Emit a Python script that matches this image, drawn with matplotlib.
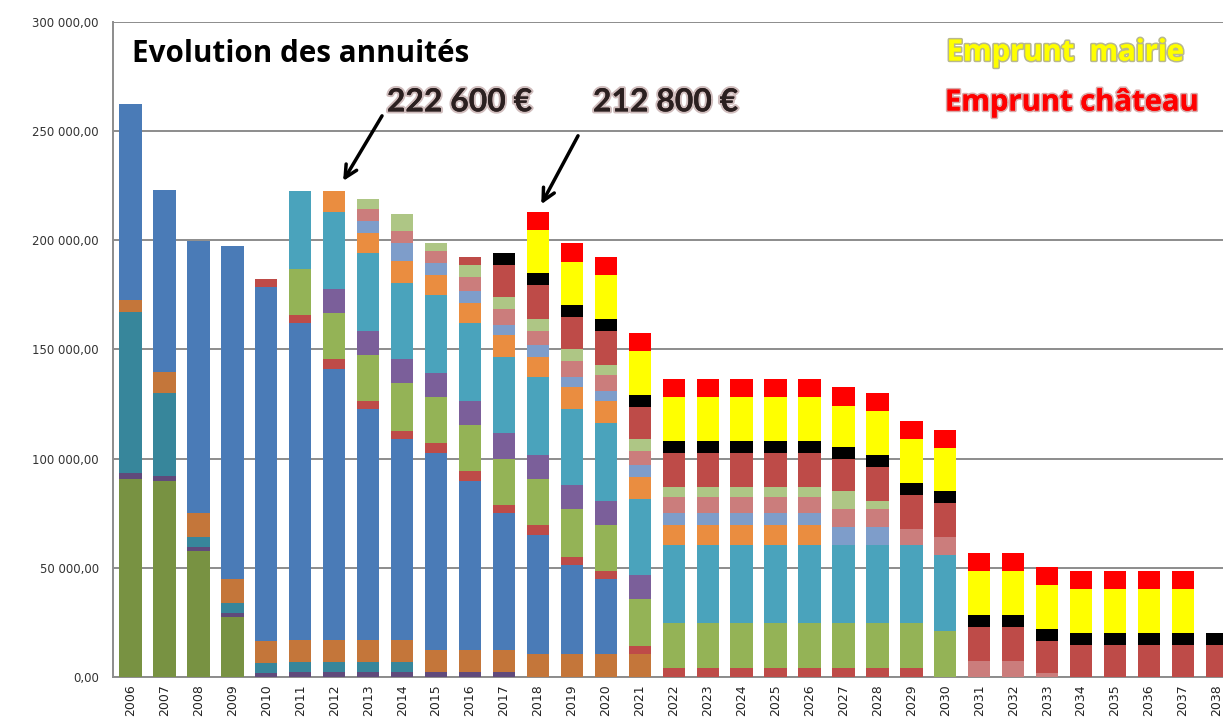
import matplotlib
matplotlib.use("Agg")
import matplotlib.pyplot as plt
import matplotlib.patheffects as pe
import numpy as np

years = ["2006", "2007", "2008", "2009", "2010", "2011", "2012", "2013", "2014", "2015",
         "2016", "2017", "2018", "2019", "2020", "2021", "2022", "2023", "2024", "2025",
         "2026", "2027", "2028", "2029", "2030", "2031", "2032", "2033", "2034", "2035",
         "2036", "2037", "2038"]

# stacked series, bottom to top (values in euros)
s_green_dark = [90500, 89600, 57800, 27300, 0, 0, 0, 0, 0, 0, 0, 0, 0, 0, 0, 0, 0, 0, 0, 0,
                0, 0, 0, 0, 0, 0, 0, 0, 0, 0, 0, 0, 0]
s_purple_dark = [3000, 2600, 1700, 2100, 2000, 2100, 2100, 2100, 2100, 2100, 2100, 2100, 0, 0, 0, 0, 0, 0, 0, 0,
                 0, 0, 0, 0, 0, 0, 0, 0, 0, 0, 0, 0, 0]
s_teal_dark = [73600, 37700, 4600, 4600, 4400, 4600, 4600, 4600, 4600, 0, 0, 0, 0, 0, 0, 0, 0, 0, 0, 0,
               0, 0, 0, 0, 0, 0, 0, 0, 0, 0, 0, 0, 0]
s_orange_dark = [5600, 9900, 10800, 10800, 10100, 10100, 10100, 10100, 10100, 10100, 10100, 10100, 10400, 10400, 10400,
                 10400, 0, 0, 0, 0, 0, 0, 0, 0, 0, 0, 0, 0, 0, 0, 0, 0, 0]
s_blue = [89600, 83200, 124600, 152600, 162200, 145100, 124100, 106000, 92100, 90400, 77600, 63000, 54700, 41000, 34600,
          0, 0, 0, 0, 0, 0, 0, 0, 0, 0, 0, 0, 0, 0, 0, 0, 0, 0]
s_red = [0, 0, 0, 0, 3700, 3900, 4700, 3600, 3900, 4600, 4600, 3700, 4600, 3700, 3700,
         3600, 4000, 4000, 4000, 4000, 4000, 4000, 4000, 4000, 0, 0, 0, 0, 0, 0, 0, 0, 0]
s_green = [0, 0, 0, 0, 0, 21000, 20900, 21100, 21900, 20900, 20900, 20800, 21000, 21900, 21000,
           21900, 20900, 20900, 20900, 20900, 20900, 20900, 20900, 20900, 21200, 0, 0, 0, 0, 0, 0, 0, 0]
s_purple = [0, 0, 0, 0, 0, 0, 11200, 11100, 10900, 11100, 11100, 12100, 11000, 11000, 10800,
            10900, 0, 0, 0, 0, 0, 0, 0, 0, 0, 0, 0, 0, 0, 0, 0, 0, 0]
s_aqua = [0, 0, 0, 0, 0, 35500, 35400, 35500, 34800, 35500, 35500, 34600, 35700, 34600, 35700,
          34800, 35700, 35700, 35700, 35700, 35700, 35700, 35700, 35700, 34800, 0, 0, 0, 0, 0, 0, 0, 0]
s_orange = [0, 0, 0, 0, 0, 0, 9500, 9200, 9900, 9200, 9200, 10000, 9100, 10000, 10000,
            10100, 9100, 9100, 9100, 9100, 9100, 0, 0, 0, 0, 0, 0, 0, 0, 0, 0, 0, 0]
s_lightblue = [0, 0, 0, 0, 0, 0, 0, 5500, 8200, 5500, 5500, 4800, 5500, 4600, 4600,
               5400, 5500, 5500, 5500, 5500, 5500, 8200, 8200, 0, 0, 0, 0, 0, 0, 0, 0, 0, 0]
s_pink = [0, 0, 0, 0, 0, 0, 0, 5500, 5500, 5500, 6400, 7300, 6400, 7300, 7300,
          6300, 7300, 7300, 7300, 7300, 7300, 8200, 8200, 7300, 8200, 7500, 7500, 2000, 0, 0, 0, 0, 0]
s_lightgreen = [0, 0, 0, 0, 0, 0, 0, 4500, 8200, 3600, 5600, 5300, 5500, 5500, 4600,
                5500, 4600, 4600, 4600, 4600, 4600, 8300, 3700, 0, 0, 0, 0, 0, 0, 0, 0, 0, 0]
s_darkred = [0, 0, 0, 0, 0, 0, 0, 0, 0, 0, 3700, 14800, 15600, 14700, 15600,
             14600, 15400, 15400, 15400, 15400, 15400, 14500, 15500, 15500, 15600, 15600, 15600, 14600, 14800, 14800,
             14800, 14800, 14800]
s_black = [0, 0, 0, 0, 0, 0, 0, 0, 0, 0, 0, 5500, 5500, 5500, 5400,
           5500, 5400, 5400, 5400, 5400, 5400, 5500, 5500, 5500, 5500, 5400, 5400, 5500, 5500, 5500,
           5500, 5500, 5500]
s_mairie = [0, 0, 0, 0, 0, 0, 0, 0, 0, 0, 0, 0, 19800, 19900, 20200,
            20100, 20200, 20200, 20200, 20200, 20200, 19000, 20000, 20000, 19700, 20200, 20200, 20200, 20100, 20100,
            20100, 20100, 0]
s_chateau = [0, 0, 0, 0, 0, 0, 0, 0, 0, 0, 0, 0, 8000, 8400, 8200,
             8200, 8400, 8400, 8400, 8400, 8400, 8400, 8200, 8200, 8000, 8200, 8200, 8200, 8300, 8300,
             8300, 8300, 0]

series = [s_green_dark, s_purple_dark, s_teal_dark, s_orange_dark, s_blue, s_red, s_green,
          s_purple, s_aqua, s_orange, s_lightblue, s_pink, s_lightgreen, s_darkred, s_black,
          s_mairie, s_chateau]
colors = ["#789242", "#604A7B", "#37869B", "#C4763A", "#4A7BB7", "#BE4B48", "#94B356",
          "#7B5F9A", "#4AA3BC", "#EA8D40", "#7E9DCA", "#CB7D7C", "#AEC685", "#BE4B48",
          "#000000", "#FFFF00", "#FF0000"]

fig = plt.figure(figsize=(12.23, 7.24), dpi=100)
ax = fig.add_axes([0.0922, 0.0649, 0.9078, 0.9051])

x = np.arange(len(years))
bottom = np.zeros(len(years))
for vals, col in zip(series, colors):
    v = np.array(vals, dtype=float)
    ax.bar(x, v, bottom=bottom, width=0.657, color=col, linewidth=0, zorder=3)
    bottom += v

ax.set_xlim(-0.524, 32.18)
ax.set_ylim(0, 300000)
ax.set_yticks(np.arange(0, 300001, 50000))
ax.yaxis.set_major_formatter(matplotlib.ticker.FuncFormatter(
    lambda v, p: f"{v:,.2f}".replace(",", " ").replace(".", ",")))
ax.set_xticks(x)
ax.set_xticklabels(years, rotation=90, fontsize=9, family="DejaVu Sans", color="#222222")
ax.tick_params(axis="y", length=0, pad=10, labelsize=8.5, labelcolor="#333333")
ax.tick_params(axis="x", length=0, pad=5)
ax.grid(axis="y", color="#8C8C8C", linewidth=1.4, zorder=0)
ax.set_axisbelow(True)
for s in ["top", "right"]:
    ax.spines[s].set_visible(False)
for s in ["left", "bottom"]:
    ax.spines[s].set_color("#8C8C8C")
    ax.spines[s].set_linewidth(1.4)

ax.text(0.035, 285000, "Evolution des annuités", fontsize=21.3, fontweight="bold",
        family="Open Sans", ha="left", va="center", color="black", zorder=5)

num_fx = [pe.withStroke(linewidth=3, foreground="#8a5a5a", alpha=0.4), pe.Normal()]
ax.text(7.55, 263300, "222 600 €", fontsize=23, fontweight="bold", family="Lato",
        ha="left", va="center", color="#2b2020", path_effects=num_fx, zorder=5)
ax.text(13.62, 263300, "212 800 €", fontsize=23, fontweight="bold", family="Lato",
        ha="left", va="center", color="#2b2020", path_effects=num_fx, zorder=5)

arrow_style = dict(arrowstyle="->", color="black", lw=2.5, mutation_scale=22)
ax.annotate("", xy=(6.22, 226000), xytext=(7.45, 258000), arrowprops=arrow_style, zorder=6)
ax.annotate("", xy=(12.06, 215300), xytext=(13.22, 248900), arrowprops=arrow_style, zorder=6)

ax.text(24.04, 285700, "Emprunt  mairie", fontsize=21, fontweight="bold", family="Open Sans",
        ha="left", va="center", color="#FFFF00",
        path_effects=[pe.withStroke(linewidth=2.5, foreground="#9a9a60", alpha=0.7), pe.Normal()], zorder=5)
ax.text(23.99, 262800, "Emprunt château", fontsize=21, fontweight="bold", family="Open Sans",
        ha="left", va="center", color="#FF0000",
        path_effects=[pe.withStroke(linewidth=2.5, foreground="#c07070", alpha=0.6), pe.Normal()], zorder=5)

fig.savefig("out.png", dpi=100)
